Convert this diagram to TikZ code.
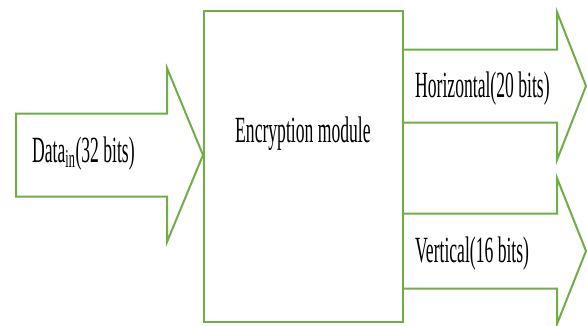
\documentclass[tikz,border=0pt]{standalone}
\usepackage{fontspec}
\setmainfont{Liberation Serif}
\usepackage{tikz}

\definecolor{officegreen}{RGB}{112,173,71}

\tikzset{arrowline/.style={draw=officegreen,line width=2pt,line join=miter}}
\tikzset{modbox/.style={draw=officegreen,line width=2pt,inner sep=0pt,
	minimum width=199pt,minimum height=311pt}}
\tikzset{tag/.style={inner sep=0pt,anchor=base west}}

% tall narrow lettering as in the drawing
\newcommand{\tall}[1]{\scalebox{1}[2.1]{\fontsize{17.6}{20}\selectfont #1}}
% #1 start x, #2 head base x, #3 tip x, #4 centre y, #5 half shaft, #6 half head
\newcommand{\outarrow}[6]{%
	\draw[arrowline] (#1,#4+#5) -- (#2,#4+#5) -- (#2,#4+#6) -- (#3,#4)
		-- (#2,#4-#6) -- (#2,#4-#5) -- (#1,#4-#5);}

\begin{document}
\begin{tikzpicture}[x=1pt,y=1pt]
	\useasboundingbox (0,0) rectangle (587,325);
	%\draw[help lines,step=50pt] (0,0) grid (587,325);
	\node[modbox,anchor=south west] (enc) at (203,2) {};
	% input arrow
	\draw[arrowline] (16,211.5) -- (167,211.5) -- (167,257) -- (enc.west |- 0,170)
		-- (167,83) -- (167,128.5) -- (16,128.5) -- cycle;
	% output arrows
	\outarrow{402}{557}{586}{239}{36.5}{74}
	\outarrow{402}{557}{586}{74}{37.5}{73}
	\node[tag] (datain) at (32,163) {\tall{Data\textsubscript{in}(32 bits)}};
	\node[tag] (encname) at (235,183) {\tall{Encryption module}};
	\node[tag] (horiz) at (415,228) {\tall{Horizontal(20 bits)}};
	\node[tag] (vert) at (415,63) {\tall{Vertical(16 bits)}};
\end{tikzpicture}
\end{document}
